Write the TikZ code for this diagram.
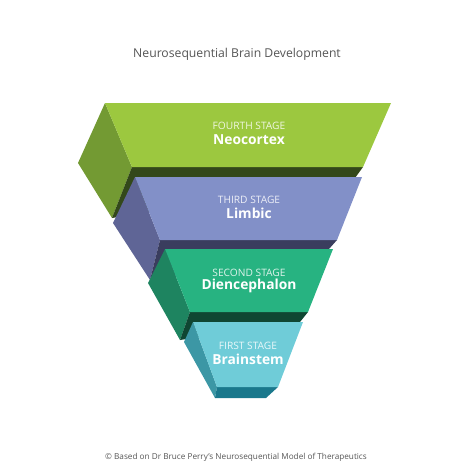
\documentclass[tikz,border=0pt]{standalone}
\usepackage{fontspec}
\setmainfont{Open Sans}
\definecolor{neoFront}{HTML}{9CC83F}
\definecolor{neoSide}{HTML}{739A33}
\definecolor{neoBase}{HTML}{33481A}
\definecolor{limFront}{HTML}{8290C8}
\definecolor{limSide}{HTML}{5F6596}
\definecolor{limBase}{HTML}{3A3D5E}
\definecolor{dieFront}{HTML}{27B381}
\definecolor{dieSide}{HTML}{1E8460}
\definecolor{dieBase}{HTML}{0F4632}
\definecolor{braFront}{HTML}{6FCCD8}
\definecolor{braSide}{HTML}{3C97A5}
\definecolor{braBase}{HTML}{1A788C}
\definecolor{capGray}{HTML}{555555}
\tikzset{
  stagecap/.style={text=white, opacity=.85, font=\fontsize{10.2}{12}\selectfont, inner sep=0pt},
  stagename/.style={text=white, font=\fontsize{13.8}{16}\selectfont\bfseries, inner sep=0pt},
}
\begin{document}
\begin{tikzpicture}[x=1pt,y=-1pt]
    \useasboundingbox (0,0) rectangle (474,474);

    % fourth stage
    \fill [neoSide] (105,103) -- (78,163) -- (112,218) -- (132,167) -- cycle;
    \fill [neoBase] (132,167) -- (363,167) -- (355,178) -- (112,218) -- cycle;
    \fill [neoFront] (105,103) -- (391,103) -- (363,167) -- (132,167) -- cycle;
    % third stage
    \fill [limSide] (135,177) -- (113,223) -- (150,280) -- (160,240) -- cycle;
    \fill [limBase] (160,240) -- (337,240) -- (329,249) -- (150,280) -- cycle;
    \fill [limFront] (135,177) -- (362,177) -- (337,240) -- (160,240) -- cycle;
    % second stage
    \fill [dieSide] (165,249) -- (148,283) -- (180,340) -- (190,312) -- cycle;
    \fill [dieBase] (190,312) -- (308,312) -- (300,322) -- (180,340) -- cycle;
    \fill [dieFront] (165,249) -- (333,249) -- (308,312) -- (190,312) -- cycle;
    % first stage
    \fill [braSide] (193,322) -- (184,342) -- (215,398) -- (217,387) -- cycle;
    \fill [braBase] (217,387) -- (278,387) -- (266,398) -- (215,398) -- cycle;
    \fill [braFront] (193,322) -- (303,322) -- (278,387) -- (217,387) -- cycle;

    \node (title) [text=capGray, font=\fontsize{12.2}{14}\selectfont] at (237,54) {Neurosequential Brain Development};

    \node (cap4) [stagecap] at (249,126) {FOURTH STAGE};
    \node (name4) [stagename] at (249,140) {Neocortex};
    \node (cap3) [stagecap] at (249,200) {THIRD STAGE};
    \node (name3) [stagename] at (249,213) {Limbic};
    \node (cap2) [stagecap] at (249,273) {SECOND STAGE};
    \node (name2) [stagename] at (249,286) {Diencephalon};
    \node (cap1) [stagecap] at (248,346) {FIRST STAGE};
    \node (name1) [stagename] at (248,359) {Brainstem};

    \node (credit) [text=capGray, font=\fontsize{8.2}{10}\selectfont] at (236,457) {© Based on Dr Bruce Perry’s Neurosequential Model of Therapeutics};
\end{tikzpicture}
\end{document}
